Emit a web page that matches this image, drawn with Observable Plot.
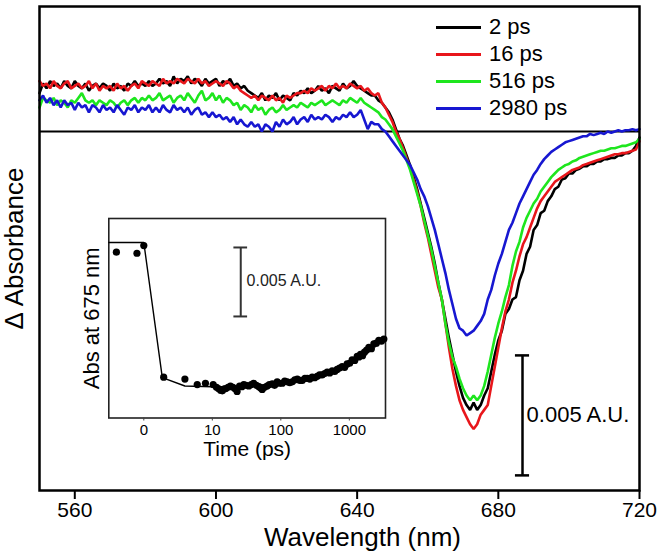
<!DOCTYPE html>
<html><head><meta charset="utf-8">
<script src="https://cdn.jsdelivr.net/npm/d3@7"></script>
<script src="https://cdn.jsdelivr.net/npm/@observablehq/plot@0.6"></script>
<style>
body{margin:0;background:#fff;}
#wrap{position:relative;width:658px;height:559px;font-family:"Liberation Sans",Arial,sans-serif;}
#inset{position:absolute;left:60px;top:205px;}
.row{position:absolute;left:436px;height:26px;display:flex;align-items:center;font-size:22px;color:#000;white-space:nowrap;}
.row .sw{display:inline-block;width:45px;height:3px;margin-right:8px;}
</style></head><body><div id="wrap"></div>
<script>
// ---- Data (ΔA in units of 0.001) ----
const wavelengths = d3.range(550, 721, 1); // nm grid, 1 nm step
const seriesNames = ["2 ps", "16 ps", "516 ps", "2980 ps"];
const seriesColors = ["#000000", "#e8161b", "#1ee61e", "#1717d1"];
const abs2ps = [
1.6,2.0,1.8,2.1,1.9,2.0,1.8,2.1,1.9,1.8,
2.1,1.9,1.8,2.0,1.7,1.9,2.0,1.8,2.0,1.9,
1.7,2.0,1.8,1.9,1.7,2.0,1.9,2.1,1.9,2.0,
1.9,2.1,1.9,2.0,2.2,2.0,2.1,1.9,2.3,2.0,
2.2,2.1,2.3,2.0,2.2,2.1,1.9,2.2,2.0,2.1,
2.2,1.9,2.1,2.0,2.2,1.9,2.0,1.8,1.9,1.7,
1.6,1.5,1.4,1.6,1.3,1.5,1.4,1.6,1.3,1.5,
1.4,1.3,1.6,1.5,1.7,1.6,1.8,1.6,1.7,1.9,
1.7,1.8,1.6,1.9,1.8,1.7,2.0,1.8,1.9,2.1,
1.9,1.8,1.7,1.6,1.5,1.5,1.3,1.2,1.0,0.8,
0.5,0.1,-0.3,-0.6,-1.0,-1.4,-1.9,-2.4,-3.0,-3.6,
-4.2,-4.8,-5.5,-6.3,-7.0,-7.8,-8.6,-9.3,-10.0,-10.6,
-11.1,-11.4,-11.6,-11.3,-11.6,-11.4,-11.0,-10.7,-10.0,-9.3,
-8.7,-8.3,-7.6,-7.4,-7.0,-6.9,-6.2,-5.8,-5.1,-4.8,
-4.1,-3.9,-3.4,-3.3,-2.9,-2.7,-2.4,-2.3,-2.0,-1.95,
-1.75,-1.75,-1.6,-1.55,-1.45,-1.45,-1.35,-1.35,-1.25,-1.25,
-1.15,-1.15,-1.1,-1.1,-1.0,-1.0,-0.9,-0.9,-0.8,-0.6,
-0.25];
const abs16ps = [
2.1,1.9,2.0,1.8,2.1,1.9,1.8,2.0,2.1,1.8,
1.9,2.0,1.8,1.9,2.1,1.8,2.0,1.7,1.9,1.8,
1.9,1.7,2.0,1.8,1.9,1.7,1.9,2.0,1.8,2.1,
2.0,1.9,2.1,2.0,1.9,2.2,2.0,2.1,2.0,2.2,
2.1,2.0,2.2,2.1,2.0,2.2,2.0,2.1,1.9,2.0,
2.1,2.0,1.9,2.1,2.0,1.8,1.9,1.7,1.6,1.5,
1.4,1.5,1.3,1.5,1.4,1.3,1.5,1.3,1.4,1.2,
1.5,1.4,1.5,1.6,1.6,1.7,1.6,1.8,1.7,1.8,
1.9,1.7,1.9,1.8,2.0,1.8,1.9,1.8,2.0,1.9,
1.8,1.9,1.7,1.8,1.6,1.5,1.6,1.2,1.0,0.7,
0.4,0.0,-0.3,-0.7,-1.1,-1.5,-2.0,-2.5,-3.1,-3.8,
-4.4,-5.1,-5.8,-6.5,-7.0,-8.0,-9.0,-9.9,-10.6,-11.2,
-11.6,-11.9,-12.2,-12.4,-12.2,-11.8,-11.6,-11.4,-10.6,-9.8,
-9.0,-8.2,-7.5,-7.0,-6.3,-5.8,-5.2,-4.7,-4.4,-4.0,
-3.6,-3.2,-2.9,-2.7,-2.5,-2.3,-2.1,-2.0,-1.9,-1.8,
-1.7,-1.6,-1.55,-1.5,-1.4,-1.35,-1.3,-1.25,-1.2,-1.15,
-1.1,-1.05,-1.0,-0.95,-0.95,-0.9,-0.9,-0.85,-0.8,-0.75,
-0.4];
const abs516ps = [
1.0,1.4,1.3,1.2,1.4,1.1,1.3,1.2,1.0,1.3,
1.2,1.4,1.6,1.3,1.2,1.3,1.1,1.3,1.2,1.1,
1.3,1.2,1.0,1.2,1.3,1.1,1.3,1.4,1.2,1.4,
1.3,1.5,1.3,1.4,1.6,1.3,1.4,1.5,1.2,1.4,
1.5,1.3,1.6,1.4,1.2,1.5,1.7,1.3,1.4,1.6,
1.3,1.5,1.2,1.4,1.3,1.1,1.2,0.9,1.1,1.0,
0.8,1.1,0.9,1.0,0.7,0.9,1.0,0.8,0.9,1.1,
0.9,1.0,1.1,1.0,1.2,1.1,1.0,1.2,1.1,1.2,
1.3,1.1,1.2,1.3,1.2,1.1,1.3,1.2,1.4,1.3,
1.2,1.4,1.2,1.1,1.0,0.9,0.8,0.6,0.5,0.3,
0.1,-0.2,-0.5,-0.8,-1.2,-1.6,-2.1,-2.6,-3.1,-3.7,
-4.3,-4.9,-5.6,-6.3,-7.0,-8.0,-8.8,-9.4,-9.8,-10.3,
-10.7,-11.0,-11.2,-11.0,-11.2,-11.0,-10.6,-10.0,-9.3,-8.6,
-8.0,-7.5,-6.9,-6.4,-5.6,-5.0,-4.6,-4.0,-3.6,-3.3,
-3.0,-2.8,-2.5,-2.3,-2.1,-1.9,-1.75,-1.6,-1.5,-1.4,
-1.35,-1.25,-1.2,-1.1,-1.05,-1.0,-0.95,-0.9,-0.85,-0.8,
-0.8,-0.75,-0.7,-0.7,-0.65,-0.6,-0.6,-0.55,-0.5,-0.45,
-0.3];
const abs2980ps = [
1.3,1.5,1.2,1.4,1.1,1.3,1.0,1.3,1.1,1.2,
0.9,1.2,1.0,1.1,0.8,1.1,1.0,0.8,1.1,0.9,
1.0,0.8,1.1,0.9,0.7,1.0,0.9,1.1,0.8,1.0,
0.9,1.1,0.8,1.0,0.8,1.1,0.9,0.8,1.1,0.9,
1.0,0.8,1.0,0.7,0.9,1.0,0.7,0.8,0.6,0.8,
0.6,0.7,0.5,0.6,0.4,0.6,0.3,0.5,0.3,0.2,
0.4,0.2,0.3,0.0,0.3,0.2,0.0,0.4,0.2,0.5,
0.3,0.4,0.6,0.3,0.5,0.6,0.4,0.7,0.5,0.6,
0.5,0.7,0.6,0.4,0.6,0.5,0.7,0.6,0.8,0.6,
0.7,0.9,0.5,0.1,0.4,0.3,0.3,0.1,0.0,-0.2,
-0.4,-0.6,-0.8,-1.0,-1.2,-1.4,-1.7,-2.0,-2.4,-2.7,
-3.1,-3.6,-4.1,-4.7,-5.3,-5.9,-6.6,-7.2,-7.8,-8.2,
-8.3,-8.5,-8.4,-8.3,-8.1,-7.9,-7.6,-7.0,-6.6,-6.0,
-5.5,-5.1,-4.6,-4.1,-3.8,-3.4,-3.0,-2.7,-2.4,-2.1,
-1.8,-1.6,-1.35,-1.15,-1.0,-0.85,-0.75,-0.65,-0.55,-0.45,
-0.4,-0.35,-0.3,-0.25,-0.2,-0.2,-0.1,-0.15,-0.1,-0.05,
-0.1,0.0,-0.05,0.0,0.05,0.0,0.05,0.05,0.1,0.05,
0.1];
const xTicks = [560, 600, 640, 680, 720];

// Inset: kinetics at 675 nm, [time (ps), ΔA x1000]
const insetPoints = [
[-4.0,-0.7],[-1.0,-0.78],[0,-0.22],[2.9,-9.76],[6.0,-9.9],[7.8,-10.3],[9.0,-10.2],[10.3,-10.3],
[11.5,-10.5],[12.4,-10.6],[13.2,-10.7],[14.0,-10.75],[15.0,-10.6],[15.6,-10.6],[17.0,-10.5],[18.4,-10.4],
[20,-10.5],[21.5,-10.6],[23,-10.8],[25,-10.4],[27,-10.45],[28.8,-10.3],[31,-10.35],[34,-10.4],
[37,-10.3],[40,-10.2],[44,-10.35],[48,-10.45],[51,-10.55],[53.5,-10.65],[58,-10.5],[63,-10.4],
[68,-10.3],[75,-10.25],[81,-10.35],[88.6,-10.1],[95,-10.2],[105,-10.2],[114,-10.05],[124,-10.1],
[135,-10.15],[147,-10.1],[160,-9.95],[174,-9.9],[190,-10.0],[205,-10.0],[225,-9.85],[243,-9.85],
[265,-9.9],[287,-9.75],[312,-9.8],[339,-9.7],[368,-9.6],[400,-9.6],[437,-9.5],[475,-9.4],
[517,-9.45],[562,-9.3],[612,-9.35],[664,-9.2],[720,-9.1],[787,-9.0],[855,-9.05],[930,-8.8],
[1010,-8.75],[1100,-8.5],[1200,-8.55],[1303,-8.25],[1380,-8.3],[1457,-8.1],[1560,-8.2],[1665,-7.95],
[1790,-7.8],[1928,-7.6],[2100,-7.7],[2280,-7.35],[2480,-7.3],[2693,-7.1],[2940,-7.15],[3190,-7.0]];
const insetFit = [
[-5.1,0],[0,0],[2.7,-9.8],[6,-10.4],[10,-10.45],[20,-10.45],[50,-10.35],[100,-10.2],
[200,-10.0],[400,-9.7],[700,-9.3],[1000,-8.9],[1500,-8.3],[2000,-7.8],[2500,-7.4],[3300,-6.9]];
const insetTicks = [0, 10, 100, 1000];

// ---- Main chart ----
const absSeries = [abs2ps, abs16ps, abs516ps, abs2980ps];
const rows = absSeries.flatMap((vals, k) => vals.map((v, i) => ({wl: wavelengths[i], v, name: seriesNames[k]})));
const FONT = '"Liberation Sans", Arial, sans-serif';
const barX = 686.85; // main scale-bar position (nm)
const label = {text: d => d, textAnchor: "middle", lineAnchor: "middle"};

const main = Plot.plot({
  width: 658, height: 559,
  marginLeft: 39, marginRight: 19, marginTop: 6, marginBottom: 69,
  style: {fontFamily: FONT, fontSize: "21px", background: "transparent", color: "#000"},
  x: {domain: [550, 720]},
  y: {domain: [-14.96, 5.21], axis: null},
  color: {domain: seriesNames, range: seriesColors},
  marks: [
    Plot.ruleY([0], {stroke: "#000", strokeWidth: 2}),
    Plot.line(rows, {x: "wl", y: "v", z: "name", stroke: "name", strokeWidth: 2.6, strokeLinejoin: "miter"}),
    Plot.ruleX([barX], {y1: -9.33, y2: -14.33, stroke: "#000", strokeWidth: 2.5}),
    Plot.ruleY([-9.33, -14.33], {x1: barX - 2, x2: barX + 2, stroke: "#000", strokeWidth: 2.5}),
    Plot.text(["0.005 A.U."], {x: barX + 1.15, y: -11.83, text: d => d, textAnchor: "start", lineAnchor: "middle", fontSize: 22}),
    Plot.frame({stroke: "#000", strokeWidth: 2.5}),
    Plot.axisX({ticks: xTicks, tickSize: 9, tickPadding: 3, fontSize: 21, label: null, strokeWidth: 2}),
    Plot.text(["Wavelength (nm)"], {...label, frameAnchor: "bottom", dx: 23, dy: 47, fontSize: 26}),
    Plot.text(["\u0394 Absorbance"], {...label, frameAnchor: "left", dx: -25, rotate: -90, fontSize: 26})
  ]
});

const wrap = document.getElementById("wrap");
wrap.appendChild(main);

// Legend
seriesNames.forEach((name, i) => {
  const row = document.createElement("div");
  row.className = "row";
  row.style.top = (14 + i * 27) + "px";
  const sw = document.createElement("span");
  sw.className = "sw";
  sw.style.background = seriesColors[i];
  row.appendChild(sw);
  row.appendChild(document.createTextNode(name));
  wrap.appendChild(row);
});

// ---- Inset ----
const pos = t => t <= 10 ? t / 10 : Math.log10(t); // linear to 10 ps, log beyond
const barT = 26;
const inset = Plot.plot({
  width: 340, height: 260,
  marginLeft: 48.3, marginRight: 15, marginTop: 13, marginBottom: 47.5,
  style: {fontFamily: FONT, fontSize: "15px", background: "transparent", color: "#000"},
  x: {domain: [-0.511, 3.528]},
  y: {domain: [-12.72, 1.74], axis: null},
  marks: [
    Plot.frame({fill: "white", stroke: "#222", strokeWidth: 1.6}),
    Plot.line(insetFit, {x: d => pos(d[0]), y: d => d[1], stroke: "#000", strokeWidth: 1.4}),
    Plot.dot(insetPoints, {x: d => pos(d[0]), y: d => d[1], r: 3.6, fill: "#000", stroke: "none"}),
    Plot.ruleX([pos(barT)], {y1: -0.36, y2: -5.36, stroke: "#333", strokeWidth: 2}),
    Plot.ruleY([-0.36, -5.36], {x1: pos(barT) - 0.1, x2: pos(barT) + 0.1, stroke: "#333", strokeWidth: 2}),
    Plot.text(["0.005 A.U."], {x: pos(barT) + 0.085, y: -2.75, text: d => d, textAnchor: "start", lineAnchor: "middle", fontSize: 16, fill: "#222"}),
    Plot.axisX({ticks: insetTicks.map(pos), tickFormat: p => String(Math.round(p <= 1 ? p * 10 : 10 ** p)),
      tickSize: 3, tickPadding: 3, fontSize: 15, label: null, stroke: "#444"}),
    Plot.text(["Time (ps)"], {...label, frameAnchor: "bottom", dy: 31, fontSize: 21}),
    Plot.text(["Abs at 675 nm"], {...label, frameAnchor: "left", dx: -17, rotate: -90, fontSize: 22})
  ]
});
const insetDiv = document.createElement("div");
insetDiv.id = "inset";
insetDiv.appendChild(inset);
wrap.appendChild(insetDiv);
</script></body></html>
